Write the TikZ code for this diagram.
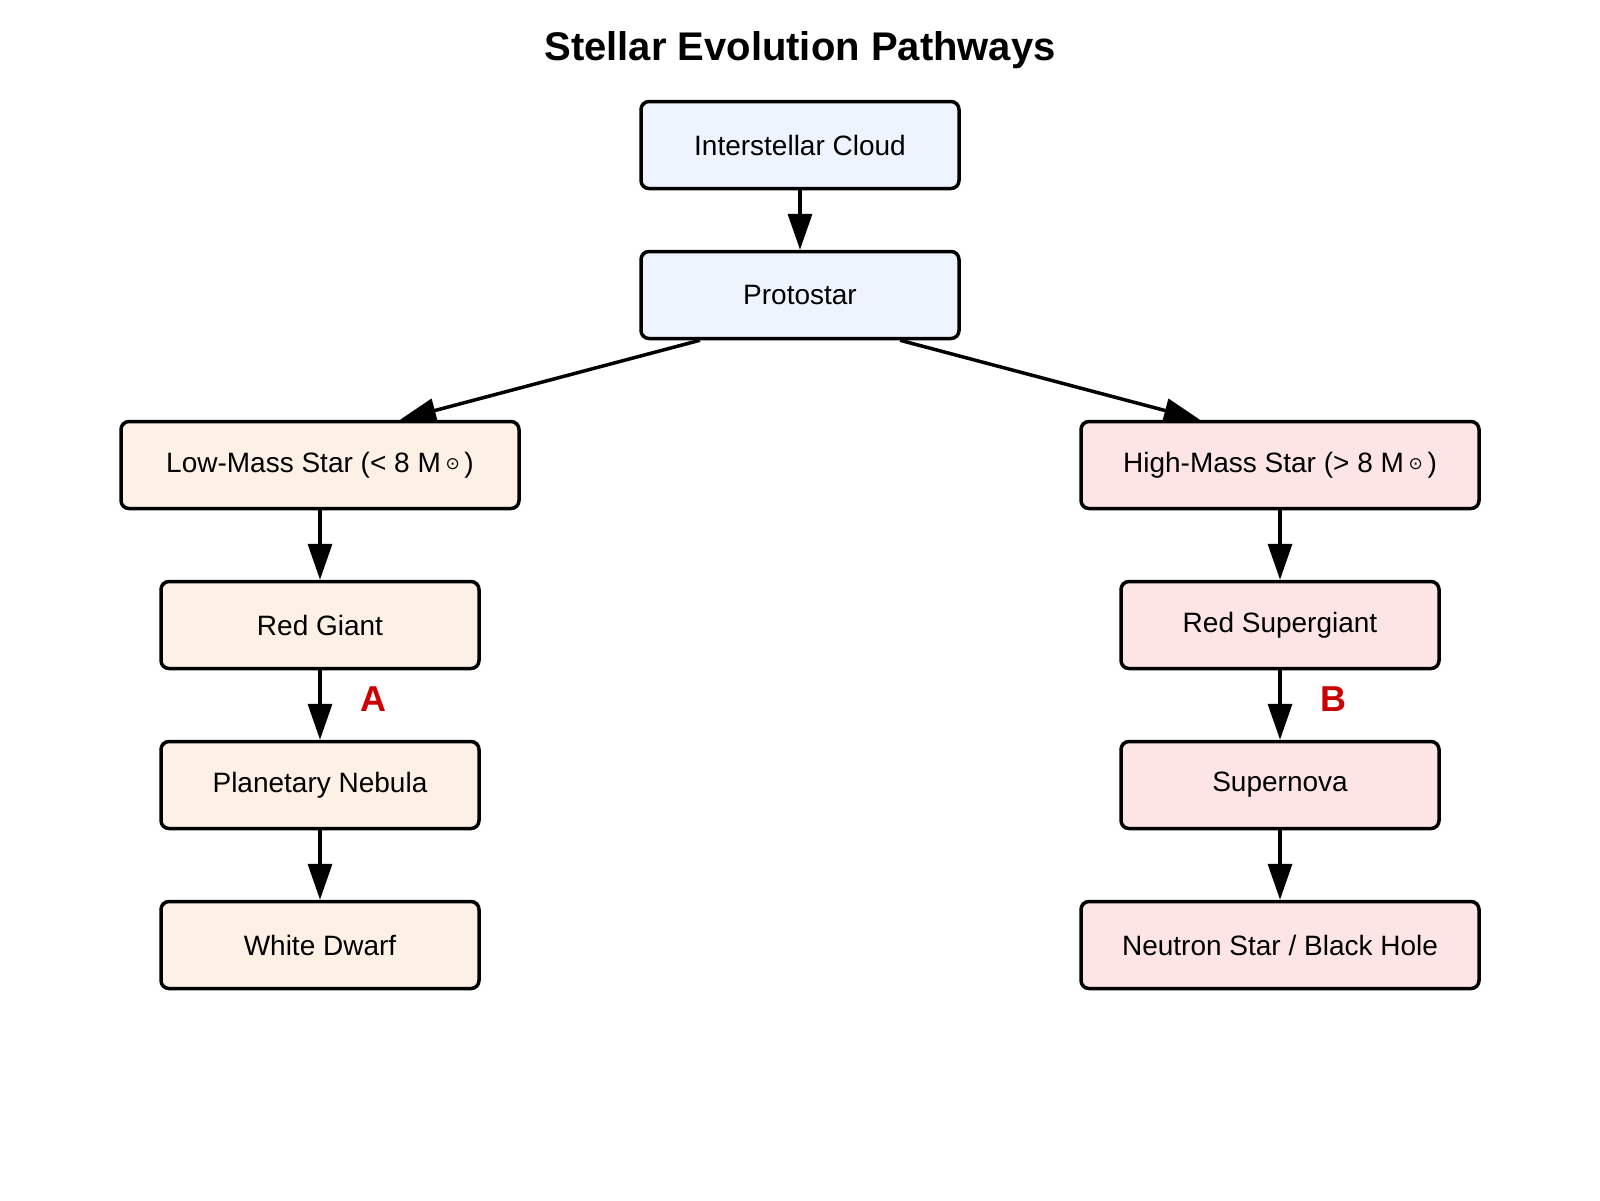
\documentclass[tikz,border=0pt]{standalone}
\usepackage{fontspec}
\setmainfont{Liberation Sans}
\newfontfamily\symfont{DejaVu Sans}
\usetikzlibrary{arrows.meta}
\definecolor{bluefill}{HTML}{EDF4FE}
\definecolor{lowfill}{HTML}{FDF0E5}
\definecolor{highfill}{HTML}{FDE5E6}
\definecolor{labred}{HTML}{CC0000}
\newcommand{\msun}{M\,{\symfont\fontsize{17}{17}\selectfont\raisebox{3pt}{⊙}}\,}
\begin{document}
\begin{tikzpicture}[x=1pt,y=-1pt,
  box/.style={draw=black, line width=3.5pt, rounded corners=8pt, minimum height=87pt, inner sep=0pt, font=\fontsize{28}{32}\selectfont},
  narrow/.style={box, minimum width=318pt},
  wide/.style={box, minimum width=398pt},
  arr/.style={line width=3.5pt, -{Triangle[length=36pt,width=24pt]}},
  lab/.style={text=labred, font=\bfseries\fontsize{36}{40}\selectfont}]
\useasboundingbox (0,0) rectangle (1600,1200);
\node[font=\bfseries\fontsize{40}{44}\selectfont] (title) at (800,50) {Stellar Evolution Pathways};
\node[narrow, fill=bluefill] (cloud) at (800,145) {Interstellar Cloud};
\node[narrow, fill=bluefill] (proto) at (800,295) {Protostar};
\node[wide, fill=lowfill] (low) at (320,465) {Low-Mass Star (< 8 \msun)};
\node[narrow, fill=lowfill] (rg) at (320,625) {Red Giant};
\node[narrow, fill=lowfill] (pn) at (320,785) {Planetary Nebula};
\node[narrow, fill=lowfill] (wd) at (320,945) {White Dwarf};
\node[wide, fill=highfill] (high) at (1280,465) {High-Mass Star (> 8 \msun)};
\node[narrow, fill=highfill] (rsg) at (1280,625) {Red Supergiant};
\node[narrow, fill=highfill] (sn) at (1280,785) {Supernova};
\node[wide, fill=highfill] (ns) at (1280,945) {Neutron Star / Black Hole};
\draw[arr] (cloud.south) -- (proto.north);
\draw[arr] ([xshift=-100pt]proto.south) -- ([xshift=80pt]low.north);
\draw[arr] ([xshift=100pt]proto.south) -- ([xshift=-80pt]high.north);
\draw[arr] (low.south) -- (rg.north);
\draw[arr] (rg.south) -- (pn.north);
\draw[arr] (pn.south) -- (wd.north);
\draw[arr] (high.south) -- (rsg.north);
\draw[arr] (rsg.south) -- (sn.north);
\draw[arr] (sn.south) -- (ns.north);
\node[lab] (la) at (373,699) {A};
\node[lab] (lb) at (1333,699) {B};
\end{tikzpicture}
\end{document}
